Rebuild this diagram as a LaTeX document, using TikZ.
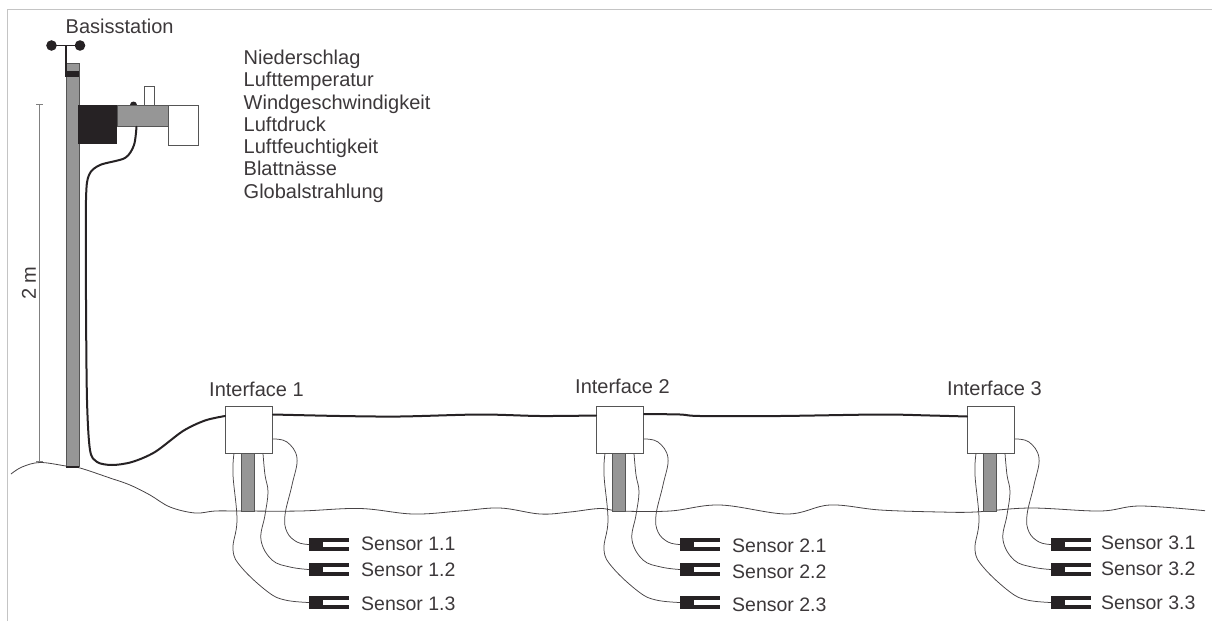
\documentclass[tikz,border=0pt]{standalone}
\usepackage{fontspec}
\setmainfont{Liberation Sans}
\definecolor{ink}{HTML}{262224}
\definecolor{pole}{HTML}{969696}
\definecolor{edge}{HTML}{555555}
\definecolor{frame}{HTML}{C4C4C4}
\tikzset{
  lbl/.style={inner sep=0pt,anchor=base west,text=ink!90,font=\fontsize{20}{24}\selectfont},
  sensorlbl/.style={lbl,font=\fontsize{19.5}{24}\selectfont},
  ifbox/.style={draw=edge,fill=white,line width=1pt,minimum width=47pt,minimum height=47pt,inner sep=0pt},
  polebar/.style={draw=edge,fill=pole,line width=.8pt},
  sensorblock/.style={fill=ink,minimum width=14pt,minimum height=13pt,inner sep=0pt},
  wire/.style={draw=ink!85,line width=.75pt},
  maincable/.style={draw=ink,line width=2pt,line cap=round},
  thin dim/.style={draw=gray,line width=.7pt}
}
\begin{document}
\begin{tikzpicture}[x=1pt,y=-1pt]
\useasboundingbox (0,0) rectangle (1212,621);
\draw[frame,line width=1pt] (7.5,621) -- (7.5,9.5) -- (1212,9.5);

% dimension
\coordinate (dimtop) at (39.5,104);
\coordinate (dimbot) at (39.5,461);
\draw[thin dim] (dimtop) -- (dimbot);
\draw[thin dim] (36,104) -- (43,104);
\draw[thin dim] (36,461) -- (43,461);
\node[lbl,anchor=center,rotate=90] (dimlabel) at (29,283) {2 m};

% ground
\draw[ink!85,line width=.8pt] plot[smooth,tension=.6] coordinates {(11,474) (22,467) (40,462.5) (66,466) (80,468) (110,478) (130,485) (150,495) (170,507) (195,513) (215,511) (240,511) (300,511) (360,508.5) (413,514) (460,511) (500,508) (540,514) (570,512) (600,508.5) (620,511) (670,511) (720,505) (787,514) (830,505) (880,510) (940,512) (975,512) (1030,508) (1100,511) (1140,506) (1205,510.7)};

% mast
\fill[pole] (66,63) rectangle (79,467);
\draw[edge,line width=.8pt] (66,467) -- (66,63) -- (79,63) -- (79,467);
\draw[ink,line width=1.2pt] (66,467) -- (79,467);

% anemometer
\fill[ink] (51.5,45.5) circle (5.3);
\fill[ink] (80,45.5) circle (5.3);
\draw[ink,line width=1.6pt] (51.5,45.5) -- (80,45.5);
\draw[ink,line width=2pt] (65.5,45.5) -- (65.5,76);
\fill[ink] (65,71) rectangle (79,76.5);

% station
\fill[ink] (133.5,105) circle (3.5);
\node[draw=edge,fill=white,line width=.9pt,minimum width=10pt,minimum height=19pt,inner sep=0pt] (tube) at (149.5,95.5) {};
\node[fill=ink,minimum width=39pt,minimum height=39pt,inner sep=0pt] (logger) at (97.5,124) {};
\node[fill=pole,draw=edge,line width=.6pt,minimum width=51pt,minimum height=21.5pt,inner sep=0pt] (arm) at (142.5,115.7) {};
\node[draw=edge,fill=white,line width=.9pt,minimum width=30pt,minimum height=40pt,inner sep=0pt] (radbox) at (183,125) {};
\node[lbl] (baslabel) at (65.5,33) {Basisstation};

\foreach \t [count=\n from 0] in {Niederschlag,Lufttemperatur,Windgeschwindigkeit,Luftdruck,Luftfeuchtigkeit,Blattnässe,Globalstrahlung}{
  \node[lbl] (p\n) at (243.5,{64.5+\n*22.25}) {\t};
}

% interfaces
\foreach \i/\dx/\lx/\ly/\tx/\tya/\tyb/\tyc in {
  1/0/209/396/361/550/576/610,
  2/371/575/393/732/552/578/611,
  3/742/947/395/1101/549/575/609}{
  \begin{scope}[shift={(\dx,0)}]
    \draw[polebar] (241.5,453) rectangle (254.5,511);
    \node[ifbox] (if\i) at (249,429.5) {};
    \node[sensorblock] (s\i a) at (316,544.5) {};
    \node[sensorblock] (s\i b) at (316,569.5) {};
    \node[sensorblock] (s\i c) at (316,602.5) {};
    \foreach \s in {a,b,c}{
      \fill[ink] (s\i\s.north east) rectangle ++(26,4);
      \fill[ink] (s\i\s.south east) rectangle ++(26,-4);
    }
    \draw[wire] plot[smooth,tension=.65] coordinates {(if\i.east |- 0,439) (287,442) (297,458) (292,485) (285,515) (287,532) (297,542) (s\i a.west)};
    \draw[wire] plot[smooth,tension=.65] coordinates {([xshift=14pt]if\i.south) (265,475) (268,492) (265,515) (261,540) (272,560) (290,567) (s\i b.west)};
    \draw[wire] plot[smooth,tension=.65] coordinates {([xshift=-15pt]if\i.south) (233,475) (237,520) (233,550) (242,568) (268,592) (285,600) (s\i c.west)};
  \end{scope}
  \node[lbl] (iflabel\i) at (\lx,\ly) {Interface \i};
  \node[sensorlbl] (sl\i a) at (\tx,\tya) {Sensor \i.1};
  \node[sensorlbl] (sl\i b) at (\tx,\tyb) {Sensor \i.2};
  \node[sensorlbl] (sl\i c) at (\tx,\tyc) {Sensor \i.3};
}

% main cable
\draw[maincable] plot[smooth,tension=.5] coordinates {([xshift=-6pt]arm.south) (134,145) (125,158) (100,165) (89,175) (86,200) (86,300) (87,400) (90,450) (97,462) (112,465) (132,462) (155,452) (183,431) (205,420.5) (if1.west |- 0,416)};
\draw[maincable] plot[smooth,tension=.5] coordinates {(if1.east |- 0,414.5) (340,416) (400,416.5) (480,414.5) (540,416) (if2.west |- 0,415.5)};
\draw[maincable] plot[smooth,tension=.5] coordinates {(if2.east |- 0,414) (680,414.5) (700,416) (780,416) (880,414.5) (930,415.5) (if3.west |- 0,416.5)};
\end{tikzpicture}
\end{document}
